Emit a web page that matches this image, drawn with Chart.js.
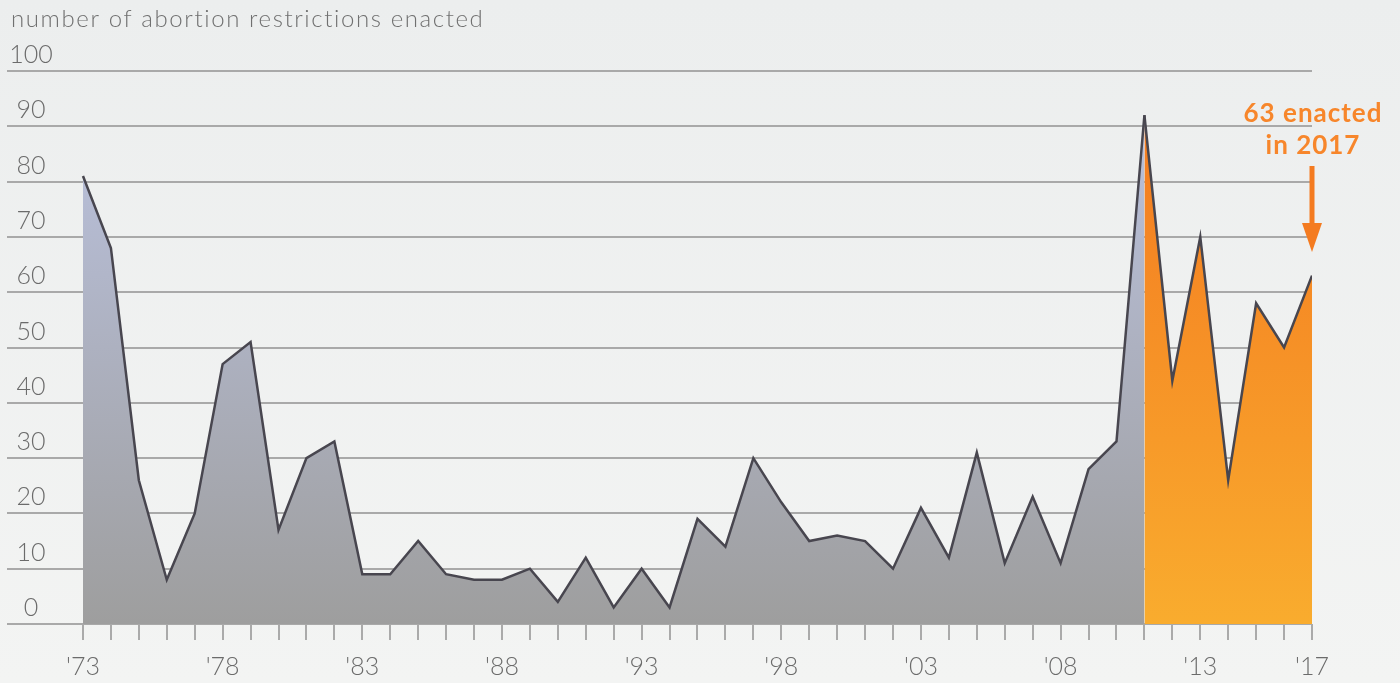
<!DOCTYPE html>
<html>
<head>
<meta charset="utf-8">
<title>Abortion restrictions enacted</title>
<script src="https://cdn.jsdelivr.net/npm/chart.js@4.4.1/dist/chart.umd.min.js"></script>
<style>
    html, body {
        margin: 0;
        padding: 0;
        width: 1400px;
        height: 683px;
        overflow: hidden;
        background: linear-gradient(#eceeee, #f3f4f3);
    }
    #wrap {
        position: relative;
        width: 1400px;
        height: 683px;
    }
</style>
</head>
<body>
<div id="wrap"><canvas id="restrictionsChart" width="1400" height="683"></canvas></div>
<script>
// Years covered by the chart
var years = [1973, 1974, 1975, 1976, 1977, 1978, 1979, 1980, 1981, 1982,
             1983, 1984, 1985, 1986, 1987, 1988, 1989, 1990, 1991, 1992,
             1993, 1994, 1995, 1996, 1997, 1998, 1999, 2000, 2001, 2002,
             2003, 2004, 2005, 2006, 2007, 2008, 2009, 2010, 2011, 2012,
             2013, 2014, 2015, 2016, 2017];

// Number of restrictions enacted each year
var restrictions = [81, 68, 26, 8, 20, 47, 51, 17, 30, 33,
                    9, 9, 15, 9, 8, 8, 10, 4, 12, 3,
                    10, 3, 19, 14, 30, 22, 15, 16, 15, 10,
                    21, 12, 31, 11, 23, 11, 28, 33, 92, 44,
                    70, 26, 58, 50, 63];

// Year where the orange highlight starts
var highlightFrom = 2011;

// Years that get a label on the x axis
var labelledYears = [1973, 1978, 1983, 1988, 1993, 1998, 2003, 2008, 2013, 2017];

var yTicks = [0, 10, 20, 30, 40, 50, 60, 70, 80, 90, 100];

var titleText = 'number of abortion restrictions enacted';
var noteLines = ['63 enacted', 'in 2017'];

var earlyPoints = [];
var latePoints = [];
years.forEach(function(year, i) {
    if (year <= highlightFrom) earlyPoints.push({ x: year, y: restrictions[i] });
    if (year >= highlightFrom) latePoints.push({ x: year, y: restrictions[i] });
});

function verticalGradient(context, topColor, bottomColor) {
    var chart = context.chart;
    var area = chart.chartArea;
    if (!area) return topColor;
    var g = chart.ctx.createLinearGradient(0, area.top, 0, area.bottom);
    g.addColorStop(0, topColor);
    g.addColorStop(1, bottomColor);
    return g;
}

// Title, centred y labels sitting above their grid lines, and the 2017 note
var notesPlugin = {
    id: 'notes',
    afterDraw: function(chart) {
        var ctx = chart.ctx;
        var xScale = chart.scales.x;
        var yScale = chart.scales.y;
        ctx.save();
        ctx.fillStyle = '#707070';
        ctx.font = '300 24px Lato';
        ctx.letterSpacing = '1.6px';
        ctx.textAlign = 'left';
        ctx.textBaseline = 'middle';
        ctx.fillText(titleText, 11, 19);
        ctx.letterSpacing = '0px';

        ctx.fillStyle = '#6b6b6b';
        ctx.font = '300 25px Lato';
        ctx.textAlign = 'center';
        yTicks.forEach(function(v) {
            ctx.fillText(String(v), 31, yScale.getPixelForValue(v) - 16);
        });

        var x = xScale.getPixelForValue(2017);
        ctx.fillStyle = '#f7862b';
        ctx.font = 'bold 26px Lato';
        ctx.letterSpacing = '1px';
        ctx.fillText(noteLines[0], x + 1, 114);
        ctx.fillText(noteLines[1], x + 1, 146);
        ctx.letterSpacing = '0px';

        ctx.fillStyle = '#f47b20';
        ctx.fillRect(x - 2.5, 166, 5, 60);
        ctx.beginPath();
        ctx.moveTo(x - 10, 223);
        ctx.lineTo(x + 10, 223);
        ctx.lineTo(x, 252);
        ctx.closePath();
        ctx.fill();
        ctx.restore();
    }
};

var ctx = document.getElementById('restrictionsChart').getContext('2d');
var chart = new Chart(ctx, {
    type: 'line',
    data: {
        datasets: [
            {
                label: 'before 2011',
                data: earlyPoints,
                borderColor: '#48464f',
                borderWidth: 2.5,
                fill: 'origin',
                backgroundColor: function(context) {
                    return verticalGradient(context, '#bcc4e2', '#9e9e9e');
                },
                pointRadius: 0,
                tension: 0
            },
            {
                label: 'since 2011',
                data: latePoints,
                borderColor: '#48464f',
                borderWidth: 2.5,
                fill: 'origin',
                backgroundColor: function(context) {
                    return verticalGradient(context, '#f3761f', '#f9ac2e');
                },
                pointRadius: 0,
                tension: 0
            }
        ]
    },
    options: {
        responsive: false,
        animation: false,
        layout: {
            padding: { left: 7, right: 88, top: 71, bottom: -11 }
        },
        plugins: {
            legend: { display: false },
            tooltip: { enabled: false }
        },
        scales: {
            x: {
                type: 'linear',
                min: 1970.28,
                max: 2017,
                afterBuildTicks: function(axis) {
                    axis.ticks = years.map(function(v) { return { value: v }; });
                },
                border: { display: false },
                grid: {
                    drawOnChartArea: false,
                    drawTicks: true,
                    tickLength: 16,
                    color: '#aaaaaa',
                    lineWidth: 2
                },
                ticks: {
                    autoSkip: false,
                    maxRotation: 0,
                    padding: 12,
                    color: '#6b6b6b',
                    font: { family: 'Lato', weight: '300', size: 25 },
                    callback: function(value) {
                        if (labelledYears.indexOf(value) === -1) return '';
                        return "'" + String(value).slice(2);
                    }
                }
            },
            y: {
                min: 0,
                max: 100,
                afterBuildTicks: function(axis) {
                    axis.ticks = yTicks.map(function(v) { return { value: v }; });
                },
                border: { display: false },
                grid: {
                    drawTicks: false,
                    color: '#a9a9a9',
                    lineWidth: 2
                },
                ticks: { display: false }
            }
        }
    },
    plugins: [notesPlugin]
});
</script>
</body>
</html>
